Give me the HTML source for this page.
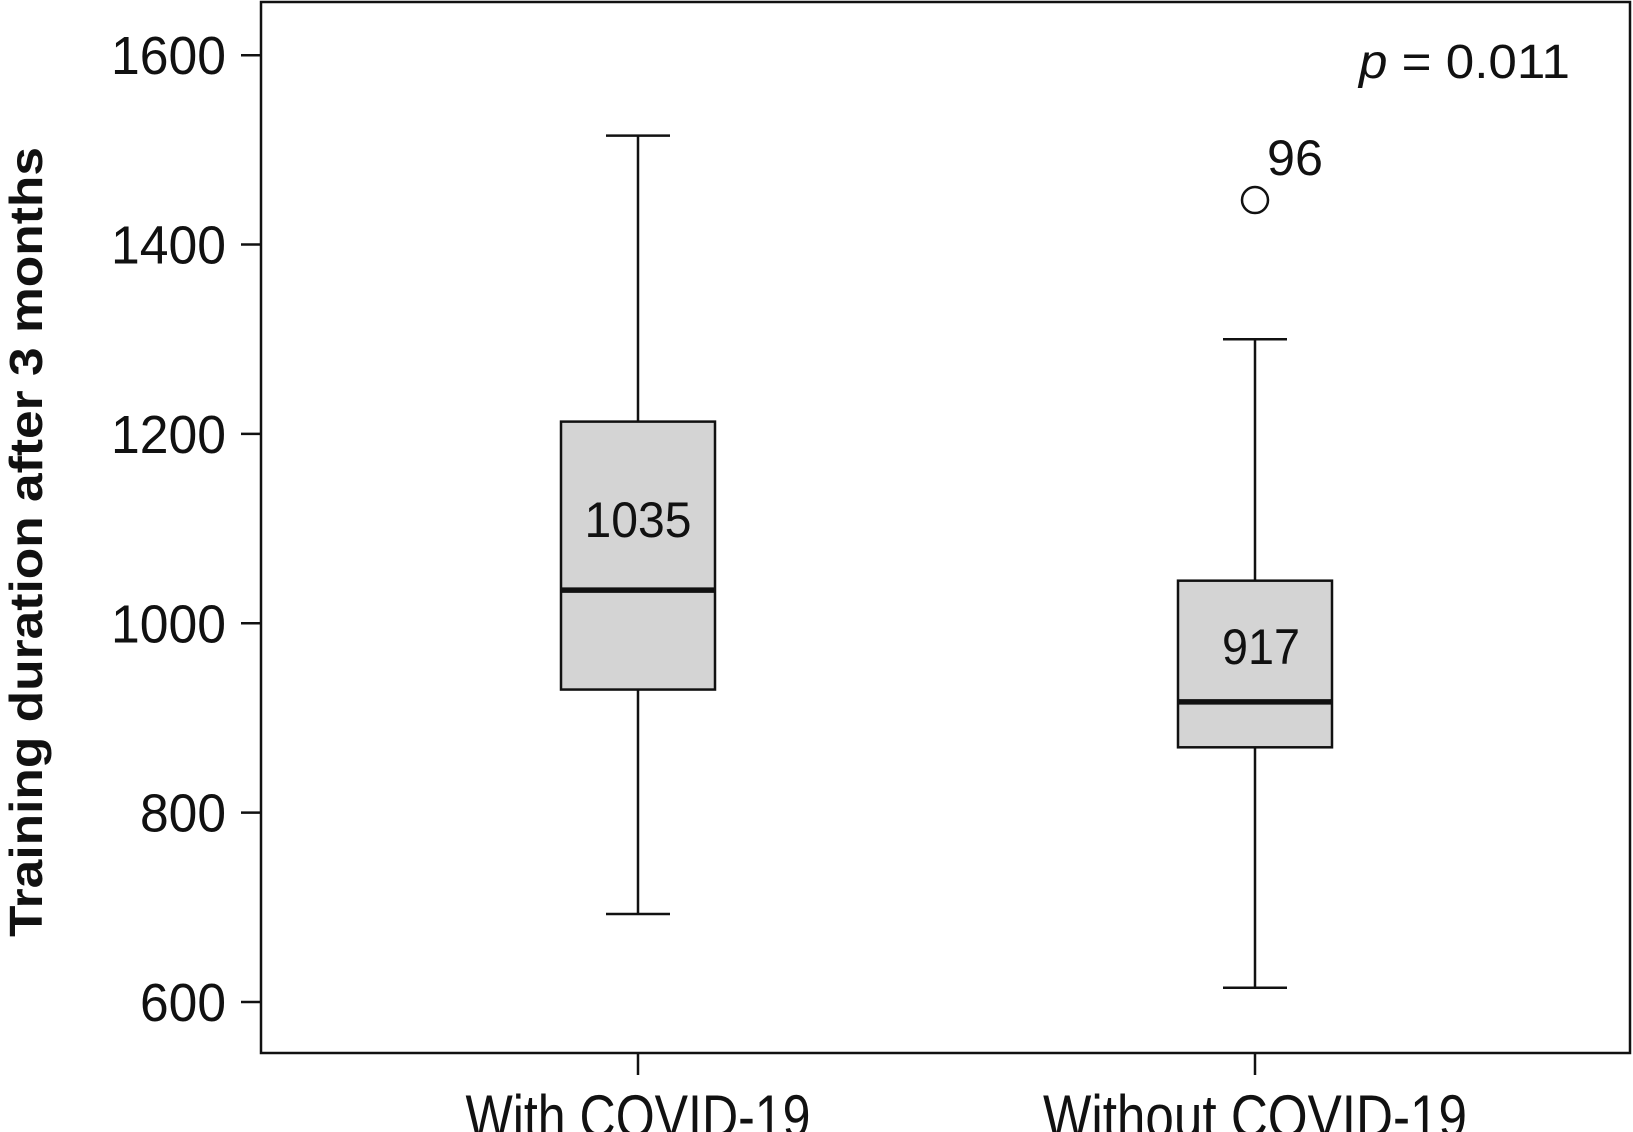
<!DOCTYPE html>
<html><head><meta charset="utf-8"><style>
html,body{margin:0;padding:0;background:#fff;}
svg{display:block;}
text{font-family:"Liberation Sans",sans-serif;fill:#111;}
</style></head><body>
<svg id="chart" width="1633" height="1132" viewBox="0 0 1633 1132" xmlns="http://www.w3.org/2000/svg">
<rect x="261" y="2" width="1369" height="1051" fill="none" stroke="#111" stroke-width="2.5"/>
<g id="yaxis"></g>
<g id="xaxis"></g>
<g id="boxes"></g>
<text transform="translate(42,542) rotate(-90)" text-anchor="middle" font-size="46" font-weight="bold" textLength="790" lengthAdjust="spacingAndGlyphs">Training duration after 3 months</text>
<text x="1359" y="78" font-size="48" textLength="211" lengthAdjust="spacingAndGlyphs"><tspan font-style="italic">p</tspan> = 0.011</text>
</svg>
<script>
const categories = ["With COVID-19", "Without COVID-19"];
const whiskerLow = [693, 615];
const q1 = [930, 869];
const medians = [1035, 917];
const q3 = [1213, 1045];
const whiskerHigh = [1515, 1300];
const medianLabels = ["1035", "917"];
const outlierValues = [null, 1447];
const outlierLabels = [null, "96"];
const yTicks = [600, 800, 1000, 1200, 1400, 1600];

const NS = "http://www.w3.org/2000/svg";
function yScale(v){ return 1002 - (v - 600) * (1002 - 55.2) / 1000; }
function xScale(i){ return 638 + i * (1255 - 638); }
function mk(tag, attrs, parent){ const e = document.createElementNS(NS, tag); for (const k in attrs) e.setAttribute(k, attrs[k]); parent.appendChild(e); return e; }

const yAxis = document.getElementById("yaxis");
yTicks.forEach(t => {
  const y = yScale(t);
  const l = mk("line", {x1:241, x2:261, y1:y, y2:y, stroke:"#111", "stroke-width":2.5}, yAxis);
  
  
  const tx = mk("text", {x:226, y:y+19, "text-anchor":"end", "font-size":54, textLength: t>=1000?115:86, lengthAdjust:"spacingAndGlyphs"}, yAxis);
  tx.textContent = t;
  
  
});

const xAxis = document.getElementById("xaxis");
categories.forEach((c, i) => {
  const x = xScale(i);
  const l = mk("line", {x1:x, x2:x, y1:1053, y2:1075, stroke:"#111", "stroke-width":2.5}, xAxis);
  
  
  const tx = mk("text", {x:x, y:1137, "text-anchor":"middle", "font-size":60, textLength: i===0?345:424, lengthAdjust:"spacingAndGlyphs"}, xAxis);
  tx.textContent = c;
  
  
});

const boxes = document.getElementById("boxes");
categories.forEach((c, i) => {
  const x = xScale(i), hw = 77, cw = 32;
  const g = mk("g", {}, boxes);
  
  
  const st = {stroke:"#111", "stroke-width":2.5};
  const w1 = mk("line", Object.assign({x1:x, x2:x, y1:yScale(whiskerHigh[i]), y2:yScale(q3[i])}, st), g);
  
  
  const c1 = mk("line", Object.assign({x1:x-cw, x2:x+cw, y1:yScale(whiskerHigh[i]), y2:yScale(whiskerHigh[i])}, st), g);
  
  
  const w2 = mk("line", Object.assign({x1:x, x2:x, y1:yScale(q1[i]), y2:yScale(whiskerLow[i])}, st), g);
  
  
  const c2 = mk("line", Object.assign({x1:x-cw, x2:x+cw, y1:yScale(whiskerLow[i]), y2:yScale(whiskerLow[i])}, st), g);
  
  
  const r = mk("rect", Object.assign({x:x-hw, y:yScale(q3[i]), width:2*hw, height:yScale(q1[i])-yScale(q3[i]), fill:"#d4d4d4"}, st), g);
  
  
  const m = mk("line", {x1:x-hw, x2:x+hw, y1:yScale(medians[i]), y2:yScale(medians[i]), stroke:"#111", "stroke-width":5.5}, g);
  
  
  const ml = mk("text", {x:x + (i===0?0:6), y: i===0 ? 537 : 664, "text-anchor":"middle", "font-size":50, textLength: i===0 ? 107 : 78, lengthAdjust:"spacingAndGlyphs"}, g);
  ml.textContent = medianLabels[i];
  
  
  if (outlierValues[i] !== null) {
    const oy = yScale(outlierValues[i]);
    const o = mk("circle", {cx:x, cy:oy, r:13, fill:"none", stroke:"#111", "stroke-width":2.5}, g);
    
    
    const ol = mk("text", {x:x+12, y:oy-25, "font-size":50, textLength:56, lengthAdjust:"spacingAndGlyphs"}, g);
    ol.textContent = outlierLabels[i];
    
    
  }
});
</script>
</body></html>
